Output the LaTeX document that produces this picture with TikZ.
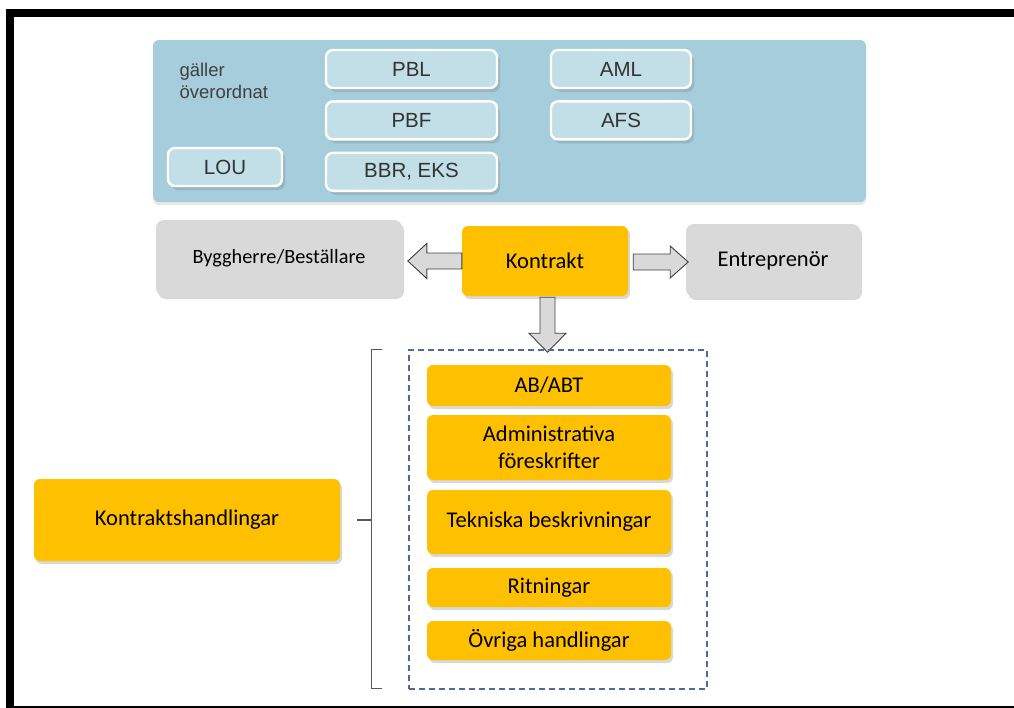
\documentclass[tikz,border=0pt]{standalone}
\usepackage{fontspec}
\setmainfont{Carlito}
\newfontfamily\arialfont{Liberation Sans}
\usepackage{tikz}
\usetikzlibrary{positioning,calc,fit,shadows}
\definecolor{panelblue}{HTML}{A5CDDB}
\definecolor{lawblue}{HTML}{C2DEE6}
\definecolor{kgold}{HTML}{FFC000}
\definecolor{kgray}{HTML}{D9D9D9}
\definecolor{dashblue}{HTML}{4F6A95}
\tikzset{
  panel/.style={rounded corners=6pt, fill=panelblue, draw=none, minimum width=713pt, minimum height=162pt,
    drop shadow={opacity=0.18, shadow xshift=0pt, shadow yshift=-3pt}},
  lawbox/.style={draw=white, line width=2.4pt, rounded corners=7pt, fill=lawblue, minimum width=171pt, minimum height=38pt,
    font=\arialfont\fontsize{20.5}{24}\selectfont, text=black!80,
    drop shadow={opacity=0.3, shadow xshift=3pt, shadow yshift=-4pt}},
  partybox/.style={rounded corners=8pt, fill=kgray, draw=none, font=\fontsize{20.3}{24}\selectfont,
    drop shadow={opacity=0.3, shadow xshift=2pt, shadow yshift=-3pt}},
  goldbox/.style={rounded corners=6pt, fill=kgold, draw=none, align=center, font=\fontsize{22.5}{27}\selectfont,
    drop shadow={opacity=0.3, shadow xshift=2pt, shadow yshift=-3pt}},
  docbox/.style={goldbox, minimum width=244pt},
  blockarrow/.style={draw=black!75, fill=kgray, line width=0.9pt, line join=miter},
  groupbox/.style={draw=dashblue, dash pattern=on 6pt off 4pt, line width=1.1pt, inner sep=0pt},
  bracket/.style={draw=black!65, line width=1.4pt}
}

\begin{document}
\begin{tikzpicture}[x=1pt, y=-1pt]
  \useasboundingbox (0,0) rectangle (1014,707);
  \fill[white] (0,0) rectangle (1014,707);
  % outer frame
  \draw[line width=8pt] (1030,13) -- (10,13) -- (10,710) -- (1030,710);

  % laws and regulations
  \node[panel] (lag) at (509.5,121) {};
  \node[anchor=west, align=left, font=\arialfont\fontsize{18.5}{22}\selectfont, text=black!75] (galler) at (176,81) {gäller\\överordnat};
  \node[lawbox] (pbl) at (411.5,69) {PBL};
  \node[lawbox, below=11pt of pbl] (pbf) {PBF};
  \node[lawbox, below=11pt of pbf] (bbr) {BBR, EKS};
  \node[lawbox, minimum width=114pt] (lou) at (225,167) {LOU};
  \node[lawbox, minimum width=140pt] (aml) at (621,69) {AML};
  \node[lawbox, minimum width=140pt, below=11pt of aml] (afs) {AFS};

  % parties
  \node[partybox, minimum width=246pt, minimum height=76pt] (bygg) at (279,258) {Byggherre/Beställare};
  \node[goldbox, minimum width=166pt, minimum height=70pt] (kon) at (545,261) {Kontrakt};
  \node[partybox, minimum width=174pt, minimum height=73pt, font=\fontsize{22.5}{27}\selectfont] (entr) at (773,260.5) {Entreprenör};

  % block arrows out of the contract
  \draw[blockarrow] ($(kon.west)+(0,-8)$) -- ++(-35,0) -- ++(0,-9.5) -- ++(-19,17.5)
    -- ++(19,17.5) -- ++(0,-9.5) -- ++(35,0) -- cycle;
  \draw[blockarrow] ($(kon.east)+(5,-7)$) -- ++(37,0) -- ++(0,-8) -- ++(18,16)
    -- ++(-18,16) -- ++(0,-8) -- ++(-37,0) -- cycle;
  \draw[blockarrow] ($(kon.south)+(-5,1)$) -- ++(0,36) -- ++(-11,0) -- ++(18.5,19)
    -- ++(18.5,-19) -- ++(-11,0) -- ++(0,-36) -- cycle;

  % contract documents
  \coordinate (gNW) at (409,350);
  \coordinate (gSE) at (707,689);
  \node[groupbox, fit=(gNW)(gSE)] (grp) {};
  \node[docbox, minimum height=41pt] (ab) at (549,385.5) {AB/ABT};
  \node[docbox, minimum height=65pt] (af) at (549,447.5) {Administrativa\\föreskrifter};
  \node[docbox, minimum height=64pt] (tb) at (549,522) {Tekniska beskrivningar};
  \node[docbox, minimum height=39pt] (rit) at (549,587.5) {Ritningar};
  \node[docbox, minimum height=39pt] (ovr) at (549,640.5) {Övriga handlingar};
  \node[goldbox, minimum width=306pt, minimum height=82pt] (kh) at (187,520) {Kontraktshandlingar};

  % bracket
  \draw[bracket] ($(grp.north west)+(-26,0)$) -- ++(-11,0) |- ($(grp.south west)+(-26,-1)$);
  \draw[bracket] ($(kh.east)+(17,0)$) -- ($(kh.east)+(32,0)$);
\end{tikzpicture}
\end{document}
